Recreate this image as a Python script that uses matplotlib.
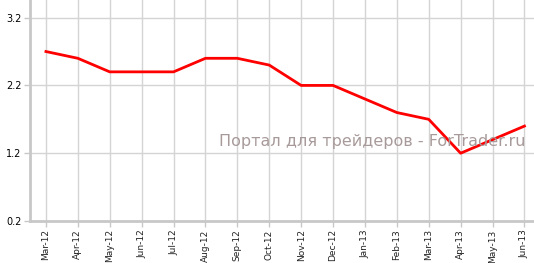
import matplotlib
matplotlib.use("Agg")
import matplotlib.pyplot as plt

# monthly values
months = ["Mar-12", "Apr-12", "May-12", "Jun-12", "Jul-12", "Aug-12", "Sep-12",
          "Oct-12", "Nov-12", "Dec-12", "Jan-13", "Feb-13", "Mar-13", "Apr-13",
          "May-13", "Jun-13"]
values = [2.7, 2.6, 2.4, 2.4, 2.4, 2.6, 2.6, 2.5, 2.2, 2.2, 2.0, 1.8, 1.7, 1.2, 1.4, 1.6]
y_ticks = [0.2, 1.2, 2.2, 3.2]

fig = plt.figure(figsize=(5.34, 2.63), dpi=100)
ax = fig.add_axes([30 / 534, 42 / 263, 504 / 534, 221 / 263])

x = list(range(len(months)))
ax.plot(x, values, color="#ff0000", linewidth=2, zorder=3)

ax.set_xlim(-0.5, 15.3)
ax.set_ylim(0.2, 3.46)
ax.set_xticks(x)
ax.set_xticklabels(months, rotation=90, fontsize=6.5, color="#222222")
ax.set_yticks(y_ticks)
ax.set_yticklabels([str(v) for v in y_ticks], fontsize=7, color="#000000")

ax.grid(True, color="#d4d4d4", linewidth=1)
ax.set_axisbelow(True)
for side in ["top", "right"]:
    ax.spines[side].set_visible(False)
for side in ["left", "bottom"]:
    ax.spines[side].set_color("#c8c8c8")
    ax.spines[side].set_linewidth(2)
ax.tick_params(axis="both", length=4, width=1, color="#c8c8c8", pad=2)

# watermark, placed in pixel coords (origin bottom-left)
ax.text(219, 263 - 146, "Портал для трейдеров - ForTrader.ru", transform=None,
        fontsize=11.5, color="#a89a9a", ha="left", va="baseline")

fig.savefig("out.png", dpi=100)
